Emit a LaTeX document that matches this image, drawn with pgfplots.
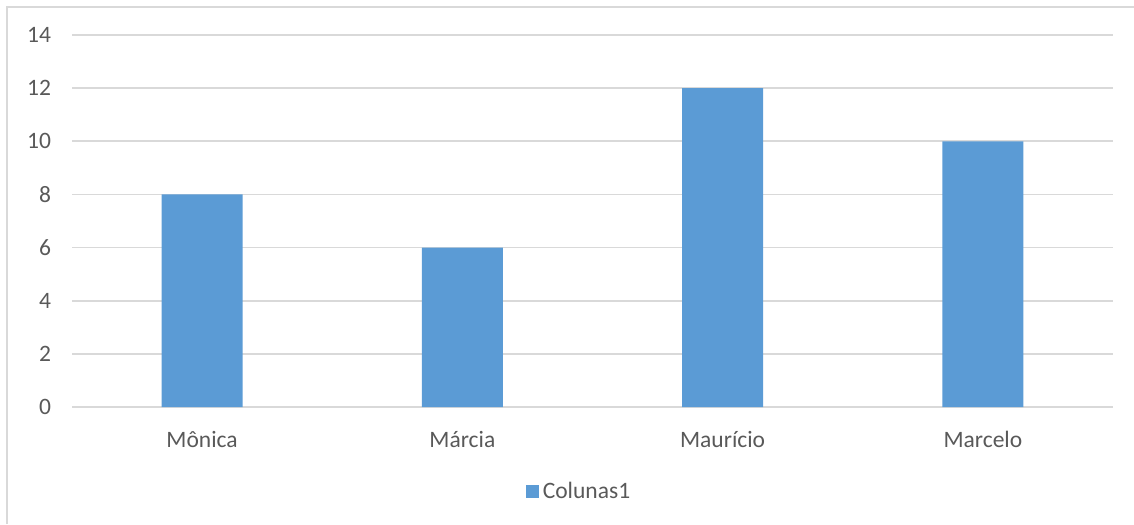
\documentclass[border=0pt]{standalone}
\usepackage{pgfplots}
\pgfplotsset{compat=1.18}
\usepackage{fontspec}
\setmainfont{Carlito}
\definecolor{barblue}{HTML}{5B9BD5}
\definecolor{gridgray}{HTML}{D9D9D9}
\definecolor{txtgray}{HTML}{595959}
\begin{document}
\begin{tikzpicture}[x=1bp,y=1bp]
\useasboundingbox (-36,-58.5) rectangle (531,203.5);
\draw[gridgray, line width=0.8bp] (-32.5,-58.5) -- (-32.5,200) -- (531,200);
\begin{axis}[
  at={(0,0)}, anchor=south west,
  scale only axis, width=520.5bp, height=186bp,
  xmin=-0.5, xmax=3.5, ymin=0, ymax=14,
  xtick={0,1,2,3}, xticklabels={Mônica,Márcia,Maurício,Marcelo},
  ytick={0,2,...,14},
  ymajorgrids, grid style={gridgray, line width=0.9bp},
  axis line style={draw=none}, tick style={draw=none},
  ticklabel style={font=\fontsize{11.8}{13}\selectfont, text=txtgray},
  /pgf/number format/assume math mode=true,
  yticklabel style={xshift=-7bp},
  xticklabel style={yshift=-8.5bp},
  legend style={at={(0.488,-0.228)}, anchor=center, draw=none, fill=none,
    font=\fontsize{11.8}{13}\selectfont, text=txtgray,
    /tikz/every even column/.append style={column sep=2bp}},
  legend image code/.code={\fill[barblue] (0bp,-3.25bp) rectangle (6.5bp,3.25bp);},
]
\addplot[ybar, bar width=40.5bp, fill=barblue, draw=none] coordinates {(0,8) (1,6) (2,12) (3,10)};
\addlegendentry{Colunas1}
\end{axis}
\end{tikzpicture}
\end{document}
